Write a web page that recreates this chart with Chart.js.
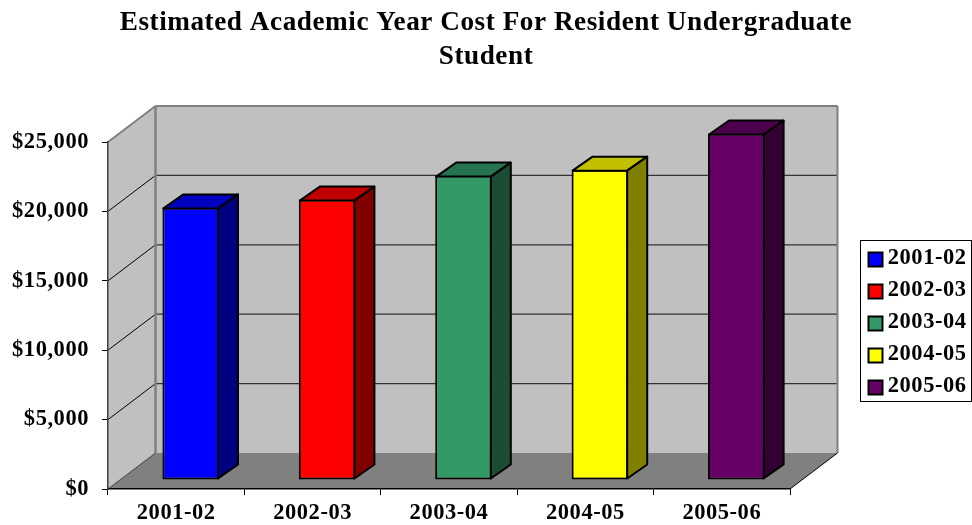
<!DOCTYPE html>
<html>
<head>
<meta charset="utf-8">
<style>html,body{margin:0;padding:0;background:#fff}canvas{display:block}</style>
<script src="https://cdn.jsdelivr.net/npm/chart.js@4"></script>
</head>
<body>
<canvas id="c" width="972" height="525"></canvas>
<script>
const categories = ["2001-02","2002-03","2003-04","2004-05","2005-06"];
const costs = [19640, 20200, 21930, 22360, 24960];
const frontColors = ["#0000FF","#FF0000","#339966","#FFFF00","#660066"];
const topColors = ["#0000C0","#C00000","#267350","#C0C000","#4D004D"];
const sideColors = ["#000080","#800000","#1A4D33","#808000","#330033"];
const titleLines = ["Estimated Academic Year Cost For Resident Undergraduate","Student"];

const WALL = {dx:47.5, dy:-36};
const BAR_OFF = {dx:14.5, dy:-9};
const BAR_DEPTH = {dx:20, dy:-14};
const SERIF = "'Liberation Serif','Times New Roman',serif";
const LEGEND_ROW = 32;

function poly(ctx, pts, fill, stroke, lw){
  ctx.beginPath();
  pts.forEach((p,i)=> i?ctx.lineTo(p[0],p[1]):ctx.moveTo(p[0],p[1]));
  ctx.closePath();
  if(fill){ctx.fillStyle=fill;ctx.fill();}
  if(stroke){ctx.strokeStyle=stroke;ctx.lineWidth=lw;ctx.stroke();}
}
function line(ctx,x1,y1,x2,y2,c,lw){
  ctx.beginPath();ctx.moveTo(x1,y1);ctx.lineTo(x2,y2);ctx.strokeStyle=c;ctx.lineWidth=lw;ctx.stroke();
}

const scene = {
  id:'scene',
  afterLayout(chart){
    const t = chart.titleBlock; t.left=0; t.right=972; t.width=972;
    const l = chart.legend; l.left=859; l.right=971; l.width=112; l.top=237; l.bottom=520; l.height=283;
  },
  beforeDraw(chart){
    const ctx = chart.ctx, a = chart.chartArea, y = chart.scales.y;
    ctx.letterSpacing = '0.55px';
    ctx.save();
    const L=a.left,R=a.right,T=a.top,B=a.bottom,dx=WALL.dx,dy=WALL.dy;
    poly(ctx,[[L+dx,T+dy],[R+dx,T+dy],[R+dx,B+dy],[L+dx,B+dy]],'#C0C0C0');
    poly(ctx,[[L,T],[L+dx,T+dy],[L+dx,B+dy],[L,B]],'#C0C0C0');
    poly(ctx,[[L,B],[R,B],[R+dx,B+dy],[L+dx,B+dy]],'#808080');
    y.ticks.forEach(tk=>{
      const py=y.getPixelForValue(tk.value);
      if(tk.value>0 && tk.value<y.max){
        line(ctx,L,py,L+dx,py+dy,'#000',1);
        line(ctx,L+dx,py+dy,R+dx,py+dy,'#333',1.2);
      }
    });
    line(ctx,L,T,L+dx,T+dy,'#808080',2);
    line(ctx,L+dx,T+dy,R+dx,T+dy,'#808080',2);
    line(ctx,R+dx,T+dy,R+dx,B+dy,'#808080',2);
    line(ctx,L+dx,T+dy,L+dx,B+dy,'#808080',2.5);
    line(ctx,R,B,R+dx,B+dy,'#000',1);
    line(ctx,L,B,L+dx,B+dy,'#404040',1);
    ctx.restore();
    ctx.save();
    ctx.strokeStyle='#000';ctx.lineWidth=1;
    ctx.strokeRect(860.5,240.5,111,161);
    ctx.restore();
  },
  beforeDatasetsDraw(chart){
    chart.ctx.save();
    chart.ctx.translate(BAR_OFF.dx,BAR_OFF.dy);
  },
  afterDatasetsDraw(chart){
    const ctx=chart.ctx, dx=BAR_DEPTH.dx, dy=BAR_DEPTH.dy;
    chart.getDatasetMeta(0).data.forEach((el,i)=>{
      const l=el.x-el.width/2+1, r=el.x+el.width/2-1, t=el.y+1, b=el.base-1;
      ctx.lineJoin='round';
      poly(ctx,[[l,t],[r,t],[r+dx,t+dy],[l+dx,t+dy]],topColors[i],'#000',2);
      poly(ctx,[[r,t],[r+dx,t+dy],[r+dx,b+dy],[r,b]],sideColors[i],'#000',2);
    });
    ctx.restore();
  },
  afterDraw(chart){
    const ctx=chart.ctx, lg=chart.legend;
    ctx.save();
    categories.forEach((c,i)=>{
      const yy=lg.top+15.5+LEGEND_ROW*i;
      ctx.fillStyle=frontColors[i];
      ctx.fillRect(lg.left+9.5,yy,14,14);
      ctx.strokeStyle='#000';ctx.lineWidth=2;
      ctx.strokeRect(lg.left+9.5,yy,14,14);
    });
    ctx.restore();
  }
};

new Chart(document.getElementById('c').getContext('2d'),{
  type:'bar',
  data:{labels:categories,datasets:[{
    data:costs,
    backgroundColor:frontColors,
    borderColor:'#000',
    borderWidth:2,
    borderSkipped:false,
    categoryPercentage:1,
    barPercentage:0.415,
    clip:false
  }]},
  plugins:[scene],
  options:{
    responsive:false,
    animation:false,
    devicePixelRatio:1,
    layout:{padding:{left:0,right:182,top:0,bottom:0}},
    plugins:{
      tooltip:{enabled:false},
      title:{
        display:true,text:titleLines,color:'#000',
        font:{family:SERIF,size:27.2,weight:'bold',lineHeight:34/27.2},
        padding:{top:6,bottom:68}
      },
      legend:{
        display:true,position:'chartArea',align:'start',
        labels:{
          color:'#000',font:{family:SERIF,size:22.5,weight:'bold'},
          boxWidth:8,boxHeight:8,padding:9.5,
          generateLabels(chart){
            return categories.map((c,i)=>({text:c,fillStyle:frontColors[i],strokeStyle:frontColors[i],lineWidth:0,index:i,hidden:false}));
          }
        }
      }
    },
    scales:{
      x:{
        afterFit(s){s.height=36;},
        grid:{display:true,drawOnChartArea:false,tickLength:6,tickColor:'#000',offset:true},
        border:{color:'#000',width:1.5},
        ticks:{color:'#000',padding:5,maxRotation:0,font:{family:SERIF,size:22.5,weight:'bold'}}
      },
      y:{
        min:0,max:25000,
        afterFit(s){s.width=108;},
        grid:{display:true,drawOnChartArea:false,tickLength:6,tickColor:'#000'},
        border:{color:'#404040',width:1.5},
        ticks:{color:'#000',padding:13,stepSize:5000,font:{family:SERIF,size:22.5,weight:'bold'},
          callback:v=>'$'+v.toLocaleString('en-US')}
      }
    }
  }
});
</script>
</body>
</html>
